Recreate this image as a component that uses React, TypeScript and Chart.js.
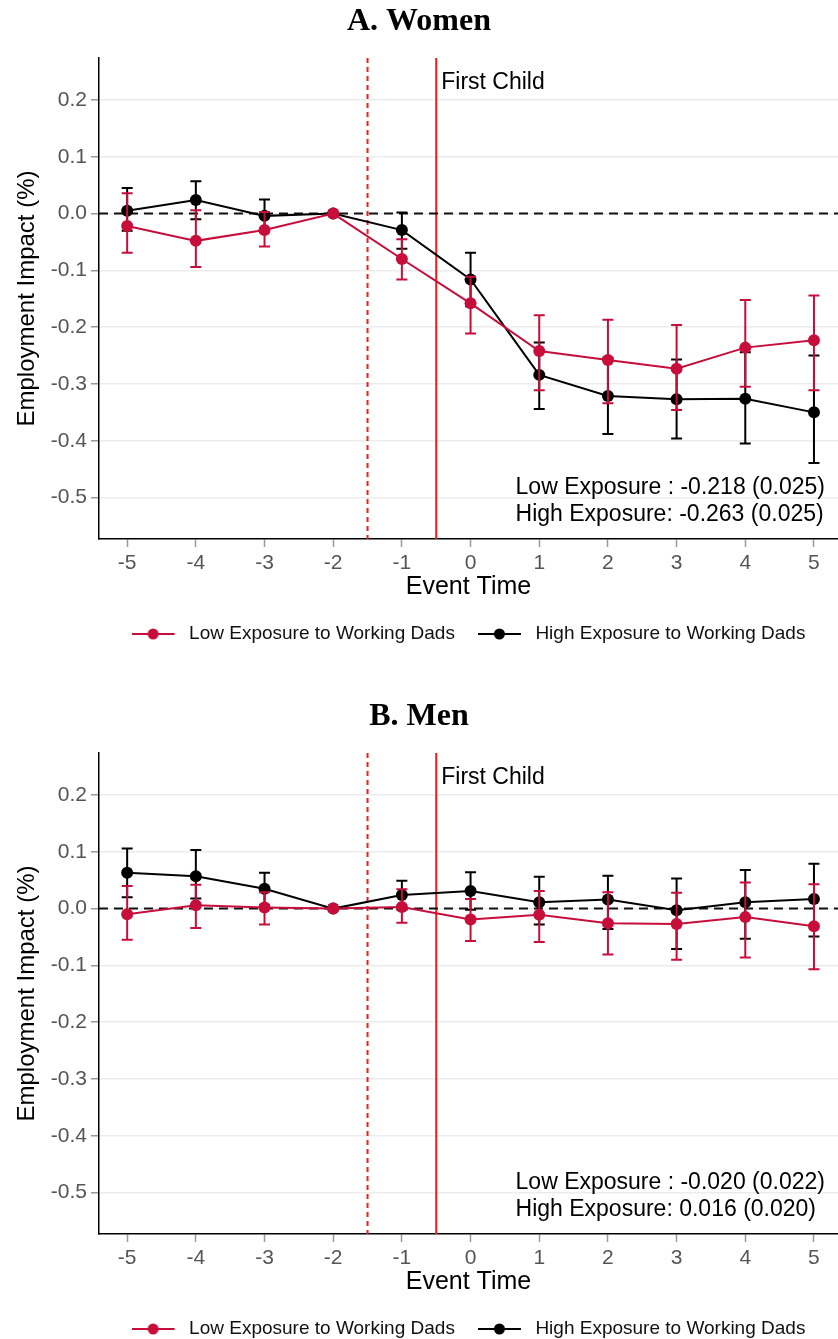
import React, { useEffect, useRef } from "react";
import { Chart, registerables } from "chart.js";

Chart.register(...registerables);
Chart.defaults.font.family = "'Liberation Sans', Arial, sans-serif";

// ---------- data ----------
const eventTimes = [-5, -4, -3, -2, -1, 0, 1, 2, 3, 4, 5];
const xTickValues = [-5, -4, -3, -2, -1, 0, 1, 2, 3, 4, 5];
const yTickValues = [0.2, 0.1, 0, -0.1, -0.2, -0.3, -0.4, -0.5];
const seriesLabels = ["Low Exposure to Working Dads", "High Exposure to Working Dads"];

const womenLow = [-0.022, -0.048, -0.029, 0, -0.08, -0.158, -0.242, -0.258, -0.273, -0.236, -0.223];
const womenLowLo = [-0.069, -0.094, -0.058, 0, -0.116, -0.211, -0.311, -0.334, -0.346, -0.305, -0.311];
const womenLowHi = [0.036, 0.006, 0.003, 0, -0.045, -0.111, -0.179, -0.187, -0.196, -0.152, -0.144];
const womenHigh = [0.005, 0.024, -0.004, 0, -0.029, -0.116, -0.284, -0.321, -0.327, -0.326, -0.35];
const womenHighLo = [-0.03, -0.01, -0.033, 0, -0.062, -0.163, -0.344, -0.388, -0.396, -0.405, -0.439];
const womenHighHi = [0.045, 0.057, 0.025, 0, 0.002, -0.069, -0.227, -0.254, -0.257, -0.244, -0.25];

const menLow = [-0.01, 0.006, 0.002, 0, 0.003, -0.019, -0.011, -0.026, -0.027, -0.015, -0.031];
const menLowLo = [-0.055, -0.034, -0.028, 0, -0.025, -0.057, -0.059, -0.081, -0.09, -0.086, -0.107];
const menLowHi = [0.04, 0.042, 0.029, 0, 0.034, 0.017, 0.031, 0.029, 0.028, 0.046, 0.043];
const menHigh = [0.063, 0.057, 0.035, 0, 0.024, 0.031, 0.011, 0.016, -0.003, 0.011, 0.017];
const menHighLo = [0.02, 0.018, 0.006, 0, -0.002, -0.002, -0.028, -0.036, -0.071, -0.053, -0.049];
const menHighHi = [0.106, 0.103, 0.063, 0, 0.049, 0.064, 0.056, 0.058, 0.053, 0.068, 0.079];

const womenStats = ["Low Exposure : -0.218 (0.025)", "High Exposure: -0.263 (0.025)"];
const menStats = ["Low Exposure : -0.020 (0.022)", "High Exposure: 0.016 (0.020)"];

const LOW_COLOR = "#c70d3a";
const HIGH_COLOR = "#000000";
const REF_RED = "#f51a1a";

type PanelSpec = {
  title: string;
  low: number[];
  lowLo: number[];
  lowHi: number[];
  high: number[];
  highLo: number[];
  highHi: number[];
  stats: string[];
};

const panels: PanelSpec[] = [
  { title: "A. Women", low: womenLow, lowLo: womenLowLo, lowHi: womenLowHi, high: womenHigh, highLo: womenHighLo, highHi: womenHighHi, stats: womenStats },
  { title: "B. Men", low: menLow, lowLo: menLowLo, lowHi: menLowHi, high: menHigh, highLo: menHighLo, highHi: menHighHi, stats: menStats },
];

function legendGlyph(color: string): HTMLCanvasElement {
  const c = document.createElement("canvas");
  c.width = 48;
  c.height = 14;
  const g = c.getContext("2d")!;
  g.strokeStyle = color;
  g.lineWidth = 2;
  g.beginPath();
  g.moveTo(0, 7);
  g.lineTo(43, 7);
  g.stroke();
  g.fillStyle = color;
  g.beginPath();
  g.arc(21.5, 7, 5.5, 0, Math.PI * 2);
  g.fill();
  return c;
}

function buildConfig(p: PanelSpec): any {
  const bars = [
    { lo: p.lowLo, hi: p.lowHi, color: LOW_COLOR },
    { lo: p.highLo, hi: p.highHi, color: HIGH_COLOR },
  ];
  const glyphs = [legendGlyph(LOW_COLOR), legendGlyph(HIGH_COLOR)];

  const overlay = {
    id: "overlay",
    beforeDatasetsDraw(chart: any) {
      const { ctx, chartArea: a, scales } = chart;
      const x = scales.x, y = scales.y;
      ctx.save();
      // dashed red line at -1.5
      const xd = x.getPixelForValue(-1.5);
      ctx.strokeStyle = REF_RED;
      ctx.lineWidth = 2;
      ctx.setLineDash([5, 4]);
      ctx.beginPath();
      ctx.moveTo(xd, a.top);
      ctx.lineTo(xd, a.bottom);
      ctx.stroke();
      // solid red line at -0.5
      const xs = x.getPixelForValue(-0.5);
      ctx.setLineDash([]);
      ctx.lineWidth = 2;
      ctx.beginPath();
      ctx.moveTo(xs, a.top);
      ctx.lineTo(xs, a.bottom);
      ctx.stroke();
      // zero dashed line
      const y0 = y.getPixelForValue(0);
      ctx.strokeStyle = "#111";
      ctx.lineWidth = 2;
      ctx.setLineDash([9, 6]);
      ctx.beginPath();
      ctx.moveTo(a.left, y0);
      ctx.lineTo(a.right, y0);
      ctx.stroke();
      ctx.restore();
    },
    beforeDatasetDraw(chart: any, args: any) {
      const b = bars[args.index];
      if (!b) return;
      const { ctx, scales } = chart;
      const x = scales.x, y = scales.y;
      ctx.save();
      ctx.strokeStyle = b.color;
      ctx.lineWidth = 2;
      ctx.setLineDash([]);
      eventTimes.forEach((t, i) => {
        if (b.lo[i] === b.hi[i]) return;
        const px = x.getPixelForValue(t);
        const pl = y.getPixelForValue(b.lo[i]);
        const ph = y.getPixelForValue(b.hi[i]);
        ctx.beginPath();
        ctx.moveTo(px, pl);
        ctx.lineTo(px, ph);
        ctx.moveTo(px - 5.5, pl);
        ctx.lineTo(px + 5.5, pl);
        ctx.moveTo(px - 5.5, ph);
        ctx.lineTo(px + 5.5, ph);
        ctx.stroke();
      });
      ctx.restore();
    },
    afterDatasetsDraw(chart: any) {
      const { ctx, scales } = chart;
      const x = scales.x, y = scales.y;
      ctx.save();
      ctx.fillStyle = "#000";
      ctx.textBaseline = "middle";
      ctx.textAlign = "left";
      ctx.font = "23px 'Liberation Sans', Arial, sans-serif";
      ctx.fillText("First Child", x.getPixelForValue(-0.5) + 5, y.getPixelForValue(0.23));
      ctx.fillText(p.stats[0], x.getPixelForValue(0.655), y.getPixelForValue(-0.482));
      ctx.fillText(p.stats[1], x.getPixelForValue(0.655), y.getPixelForValue(-0.53));
      ctx.restore();
    },
  };

  return {
    type: "line",
    data: {
      datasets: [
        {
          label: seriesLabels[0],
          data: eventTimes.map((t, i) => ({ x: t, y: p.low[i] })),
          borderColor: LOW_COLOR,
          backgroundColor: LOW_COLOR,
          pointBackgroundColor: LOW_COLOR,
          pointBorderWidth: 0,
          pointRadius: 6,
          borderWidth: 2,
          tension: 0,
        },
        {
          label: seriesLabels[1],
          data: eventTimes.map((t, i) => ({ x: t, y: p.high[i] })),
          borderColor: HIGH_COLOR,
          backgroundColor: HIGH_COLOR,
          pointBackgroundColor: HIGH_COLOR,
          pointBorderWidth: 0,
          pointRadius: 6,
          borderWidth: 2,
          tension: 0,
        },
      ],
    },
    plugins: [overlay],
    options: {
      animation: false,
      responsive: false,
      events: [],
      layout: { autoPadding: false, padding: { top: 0, left: 0, right: 0, bottom: 42.5 } },
      plugins: {
        title: {
          display: true,
          text: p.title,
          color: "#000",
          font: { family: "'Liberation Serif', 'Times New Roman', serif", weight: "bold", size: 32, lineHeight: 1.2 },
          padding: { top: 3, bottom: 16.6 },
        },
        legend: {
          display: true,
          position: "bottom",
          fullSize: false,
          labels: {
            usePointStyle: true,
            pointStyleWidth: 48,
            padding: 23,
            color: "#111",
            font: { size: 19 },
            generateLabels: (chart: any) =>
              chart.data.datasets.map((ds: any, i: number) => ({
                text: ds.label,
                fillStyle: ds.borderColor,
                strokeStyle: ds.borderColor,
                fontColor: "#111",
                lineWidth: 0,
                pointStyle: glyphs[i],
                hidden: false,
                datasetIndex: i,
              })),
          },
        },
        tooltip: { enabled: false },
      },
      scales: {
        x: {
          type: "linear",
          min: -5.41,
          max: 5.35,
          afterBuildTicks: (s: any) => {
            s.ticks = xTickValues.map((v) => ({ value: v }));
          },
          afterFit: (s: any) => {
            s.height = 62.5;
          },
          ticks: {
            color: "#555",
            font: { size: 21 },
            padding: 3.4,
            maxRotation: 0,
            autoSkip: false,
            callback: (v: any) => String(v),
          },
          grid: {
            display: true,
            drawOnChartArea: false,
            drawTicks: true,
            tickLength: 8,
            tickColor: "#9a9a9a",
            tickWidth: 1.5,
          },
          border: { display: true, color: "#000", width: 1.5 },
          title: {
            display: true,
            text: "Event Time",
            color: "#000",
            font: { size: 25, lineHeight: 1 },
            padding: { top: 0, bottom: 2 },
          },
        },
        y: {
          type: "linear",
          min: -0.573,
          max: 0.274,
          afterBuildTicks: (s: any) => {
            s.ticks = yTickValues.map((v) => ({ value: v }));
          },
          afterFit: (s: any) => {
            s.width = 99;
          },
          ticks: {
            color: "#555",
            font: { size: 21 },
            padding: 4,
            autoSkip: false,
            callback: (v: any) => Number(v).toFixed(1),
          },
          grid: {
            display: true,
            drawOnChartArea: true,
            color: "#ececec",
            lineWidth: 1.5,
            drawTicks: true,
            tickLength: 8,
            tickColor: "#9a9a9a",
            tickWidth: 1.5,
          },
          border: { display: true, color: "#000", width: 1.5 },
          title: {
            display: true,
            text: "Employment Impact (%)",
            color: "#000",
            font: { size: 24, lineHeight: 1.2 },
            padding: { top: 12.6, bottom: 0 },
          },
        },
      },
    },
  };
}

function Panel({ spec, top }: { spec: PanelSpec; top: number }) {
  const ref = useRef<HTMLCanvasElement>(null);
  useEffect(() => {
    const chart = new Chart(ref.current!, buildConfig(spec));
    return () => chart.destroy();
  }, [spec]);
  return (
    <canvas
      ref={ref}
      width={838}
      height={696}
      style={{ position: "absolute", left: 0, top, width: 838, height: 696, display: "block" }}
    />
  );
}

export default function App() {
  useEffect(() => {
    document.body.style.margin = "0";
    document.body.style.overflow = "hidden";
  }, []);
  return (
    <div style={{ position: "relative", width: 838, height: 1339, overflow: "hidden", background: "#fff" }}>
      <Panel spec={panels[0]} top={0} />
      <Panel spec={panels[1]} top={695} />
    </div>
  );
}
